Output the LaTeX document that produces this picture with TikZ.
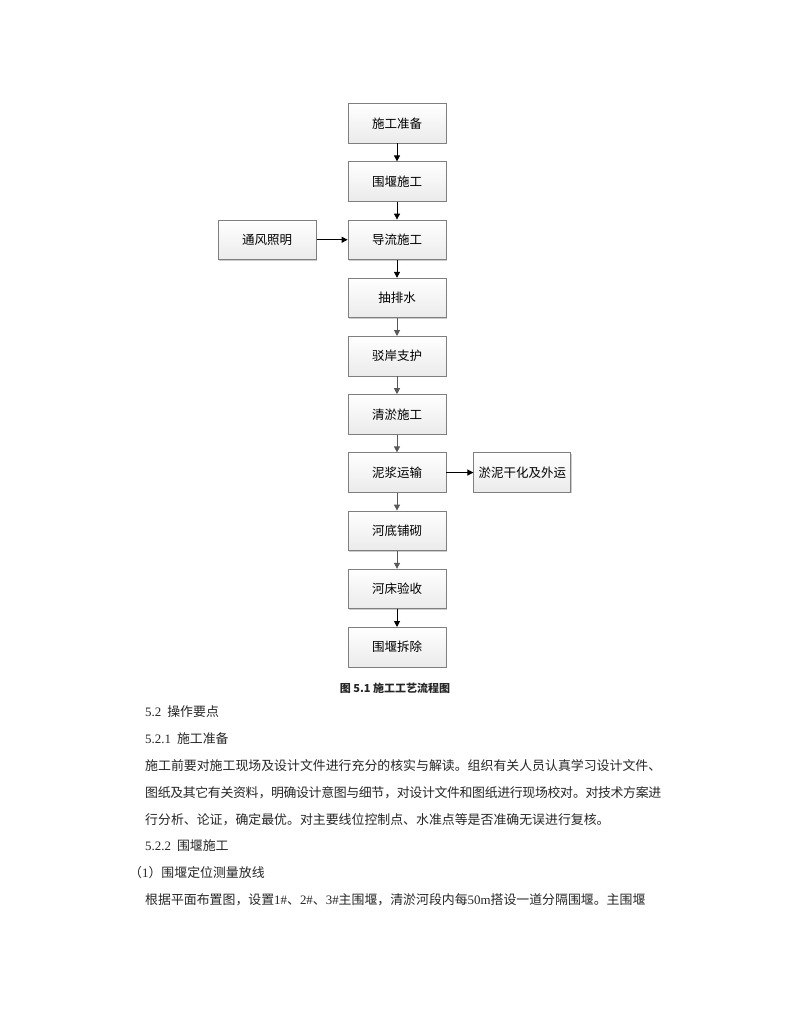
\documentclass[tikz,border=0pt]{standalone}
\usepackage{fontspec}
\setmainfont{Liberation Serif}
\newfontfamily\zh{Noto Sans CJK SC}
\usepackage{xcolor}
\usetikzlibrary{matrix, positioning, arrows.meta, shadows}
\definecolor{boxline}{HTML}{7F7F7F}
\definecolor{flowgray}{HTML}{595959}
\XeTeXlinebreaklocale "zh"
\XeTeXlinebreakskip=0pt plus 2pt minus 1pt
\newcommand{\fullline}{\parfillskip=0pt\relax}

\begin{document}
\begin{tikzpicture}[x=1pt, y=-1pt,
    box/.style={rectangle, draw=boxline, line width=0.8pt, top color=white, bottom color=black!8, minimum width=98pt, minimum height=39.5pt, inner sep=2pt, align=center, font=\zh\fontsize{12.5}{15}\selectfont, drop shadow={shadow xshift=1pt, shadow yshift=-1pt, opacity=0.2, fill=black}},
    arrow/.style={-{Triangle[length=6pt, width=6pt]}, line width=1pt, black},
    grayarrow/.style={arrow, flowgray},
    headline/.style={anchor=west, inner sep=0pt, font=\zh\fontsize{12.9}{15}\selectfont, text=black!85},
    bodyline/.style={headline, text width=516pt, align=justify}
  ]

    \fill[white] (0,0) rectangle (791,1024);
    \useasboundingbox (0,0) rectangle (791,1024);

    \matrix[row sep=17.9pt, inner sep=0pt, anchor=north] at (397,103) {
      \node[box] (prep) {施工准备}; \\
      \node[box] (cofferdam) {围堰施工}; \\
      \node[box] (diversion) {导流施工}; \\
      \node[box] (pump) {抽排水}; \\
      \node[box] (revet) {驳岸支护}; \\
      \node[box] (dredge) {清淤施工}; \\
      \node[box] (slurry) {泥浆运输}; \\
      \node[box] (pave) {河底铺砌}; \\
      \node[box] (accept) {河床验收}; \\
      \node[box] (remove) {围堰拆除}; \\
    };

    \node[box, left=31pt of diversion] (vent) {通风照明};
    \node[box, right=27pt of slurry, minimum width=97pt] (dry) {淤泥干化及外运};

    \draw[arrow] (prep) -- (cofferdam);
    \draw[arrow] (cofferdam) -- (diversion);
    \draw[arrow] (vent) -- (diversion);
    \draw[arrow] (diversion) -- (pump);
    \draw[grayarrow] (pump) -- (revet);
    \draw[grayarrow] (revet) -- (dredge);
    \draw[grayarrow] (dredge) -- (slurry);
    \draw[arrow] (slurry) -- (dry);
    \draw[grayarrow] (slurry) -- (pave);
    \draw[grayarrow] (pave) -- (accept);
    \draw[arrow] (accept) -- (remove);

    % caption and text below the chart
    \node[font=\zh\bfseries\fontsize{11}{13}\selectfont, text=black!85] (caption) at (395,688) {图 5.1 施工工艺流程图};
    \node[headline] (sec) at (145,712) {\textrm{5.2}\hspace{6pt}操作要点};
    \node[headline] (subprep) at (145,739) {\textrm{5.2.1}\hspace{6pt}施工准备};
    \node[bodyline] (parone) at (145,766) {\fullline 施工前要对施工现场及设计文件进行充分的核实与解读。组织有关人员认真学习设计文件、};
    \node[bodyline] (partwo) at (145,793) {\fullline 图纸及其它有关资料，明确设计意图与细节，对设计文件和图纸进行现场校对。对技术方案进};
    \node[headline] (parthree) at (145,820) {行分析、论证，确定最优。对主要线位控制点、水准点等是否准确无误进行复核。};
    \node[headline] (subdam) at (145,846) {\textrm{5.2.2}\hspace{6pt}围堰施工};
    \node[headline] (stepone) at (129,873) {（\textrm{1}）围堰定位测量放线};
    \node[bodyline] (parfour) at (145,900) {\fullline 根据平面布置图，设置\textrm{1\#}、\textrm{2\#}、\textrm{3\#}主围堰，清淤河段内每\textrm{50m}搭设一道分隔围堰。主围堰};

  \end{tikzpicture}
\end{document}
